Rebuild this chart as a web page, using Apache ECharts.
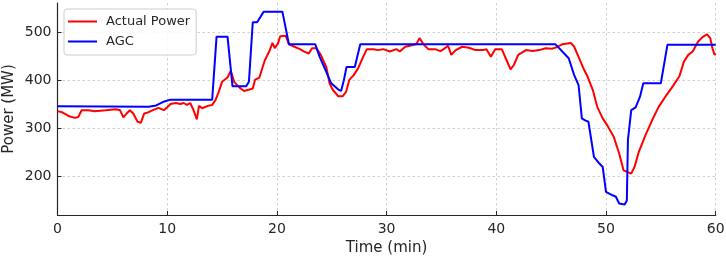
<!DOCTYPE html>
<html>
<head>
<meta charset="utf-8">
<script src="https://cdn.jsdelivr.net/npm/echarts@6/dist/echarts.min.js"></script>
<style>
  html, body { margin: 0; padding: 0; background: #fff; }
  #chart { width: 726px; height: 256px; }
</style>
</head>
<body>
<div id="chart"></div>
<script>
// AGC setpoint (blue)
const agcTime = [0, 8.3, 9.0, 9.6, 10.3, 14.1, 14.5, 15.5, 15.95, 17.2, 17.45, 17.8, 18.2, 18.8, 20.5, 21.1,
  23.5, 23.9, 24.5, 24.95, 25.6, 25.85, 26.1, 26.35, 27.1, 27.6, 45.4, 46.6, 47.1, 47.5, 47.8, 48.1, 48.4,
  48.9, 49.4, 49.7, 50.0, 50.6, 50.9, 51.2, 51.7, 51.9, 52.0, 52.3, 52.7, 53.1, 53.4, 55.0, 55.6, 60];
const agcPower = [346, 345, 348, 355, 360, 360, 491, 491, 388, 388, 397, 521, 521, 543, 543, 475,
  475, 449, 418, 394, 381, 378, 400, 428, 428, 475, 475, 446, 411, 390, 321, 317, 314,
  241, 227, 220, 168, 161, 158, 144, 142, 150, 276, 338, 344, 366, 394, 394, 474, 474];

// Actual power (red)
const actTime = [0, 0.4, 1.0, 1.6, 1.9, 2.2, 2.8, 3.4, 4.4, 5.3, 5.7, 6.0, 6.3, 6.6, 6.9, 7.3, 7.6, 7.9, 8.2,
  8.6, 9.2, 9.7, 10.0, 10.3, 10.8, 11.2, 11.5, 11.8, 12.1, 12.4, 12.7, 12.9, 13.2, 13.7, 14.1, 14.4, 14.7,
  15.0, 15.5, 15.8, 16.1, 16.6, 17.0, 17.5, 17.8, 18.0, 18.4, 18.9, 19.3, 19.6, 19.8, 20.1, 20.3, 20.8,
  21.1, 21.6, 22.1, 22.5, 22.9, 23.2, 23.6, 24.0, 24.5, 24.8, 25.1, 25.6, 26.0, 26.3, 26.6, 27.0, 27.4,
  27.9, 28.2, 28.8, 29.2, 29.7, 30.3, 30.9, 31.2, 31.7, 32.3, 32.7, 33.0, 33.4, 33.8, 34.4, 34.9, 35.2,
  35.6, 35.9, 36.3, 36.9, 37.5, 38.1, 38.8, 39.1, 39.5, 39.9, 40.5, 40.9, 41.3, 41.6, 42.0, 42.7, 43.3,
  43.9, 44.5, 45.1, 45.5, 46.0, 46.8, 47.1, 47.5, 48.0, 48.3, 48.8, 49.2, 49.7, 50.1, 50.7, 51.2, 51.6,
  52.3, 52.6, 53.0, 53.6, 54.2, 54.8, 55.5, 56.1, 56.7, 57.1, 57.5, 57.9, 58.4, 58.8, 59.2, 59.5, 59.7,
  59.9, 60];
const actPower = [336, 334, 326, 322, 324, 338, 338, 336, 338, 340, 338, 323, 331, 338, 331, 314, 312, 331, 333,
  337, 343, 338, 344, 351, 353, 351, 353, 349, 353, 338, 319, 347, 342, 347, 349, 359, 376,
  397, 406, 420, 397, 385, 378, 381, 383, 401, 406, 442, 460, 478, 467, 477, 492, 493,
  475, 470, 465, 460, 456, 467, 467, 453, 428, 394, 380, 367, 367, 376, 401, 411, 425,
  451, 465, 465, 463, 465, 460, 465, 460, 470, 473, 475, 488, 474, 465, 465, 461, 465,
  472, 453, 463, 470, 468, 463, 463, 465, 449, 465, 465, 444, 423, 432, 453, 463, 461,
  463, 467, 466, 469, 475, 478, 470, 449, 422, 409, 380, 345, 321, 307, 283, 248, 213,
  206, 220, 252, 286, 317, 345, 369, 388, 409, 439, 453, 460, 481, 490, 496, 488, 467,
  453, 456];

const yTicks = [200, 300, 400, 500];
const xTicks = [0, 10, 20, 30, 40, 50, 60];

const zip = (xs, ys) => xs.map((x, i) => [x, ys[i]]);
const font = "DejaVu Sans";
const ink = "#262626";

const chart = echarts.init(document.getElementById("chart"));
chart.setOption({
  animation: false,
  grid: { left: 57.5, right: 10.3, top: 3, bottom: 41, outerBoundsMode: "none", containLabel: false },
  legend: {
    orient: "vertical",
    left: 64,
    top: 9,
    padding: [5, 6, 6, 4],
    itemGap: 5,
    itemWidth: 29,
    itemHeight: 2,
    icon: "rect",
    backgroundColor: "rgba(255,255,255,0.85)",
    borderColor: "#cccccc",
    borderWidth: 1,
    borderRadius: 3,
    textStyle: { fontFamily: font, fontSize: 13, lineHeight: 15, color: ink, padding: [0, 0, 0, 4] },
    data: ["Actual Power", "AGC"],
  },
  xAxis: {
    type: "value",
    min: 0,
    max: 60,
    interval: 10,
    name: "Time (min)",
    nameLocation: "middle",
    nameGap: 26,
    nameMoveOverlap: false,
    nameTextStyle: { fontFamily: font, fontSize: 15, color: ink },
    axisLine: { lineStyle: { color: ink, width: 1.2 } },
    axisTick: { inside: true, length: 4, lineStyle: { color: ink }, customValues: xTicks },
    axisLabel: { margin: 7, fontFamily: font, fontSize: 14, color: ink, customValues: xTicks },
    splitLine: { show: true, lineStyle: { color: "#c4c4c4", type: [2.5, 2.5], width: 0.8 } },
  },
  yAxis: {
    type: "value",
    min: 120,
    max: 561,
    name: "Power (MW)",
    nameLocation: "middle",
    nameGap: 41,
    nameMoveOverlap: false,
    nameTextStyle: { fontFamily: font, fontSize: 15, color: ink },
    axisLine: { show: true, lineStyle: { color: ink, width: 1.2 } },
    axisTick: { show: true, inside: true, length: 4, lineStyle: { color: ink }, customValues: yTicks },
    axisLabel: { margin: 6, fontFamily: font, fontSize: 14, color: ink, customValues: yTicks },
    splitLine: { show: true, lineStyle: { color: "#c4c4c4", type: [2.5, 2.5], width: 0.8 } },
  },
  series: [
    {
      name: "Actual Power",
      type: "line",
      symbol: "none",
      data: zip(actTime, actPower),
      lineStyle: { color: "#ff0000", width: 2 },
      itemStyle: { color: "#ff0000" },
      z: 3,
    },
    {
      name: "AGC",
      type: "line",
      symbol: "none",
      data: zip(agcTime, agcPower),
      lineStyle: { color: "#0000ff", width: 2 },
      itemStyle: { color: "#0000ff" },
      z: 4,
    },
  ],
});
</script>
</body>
</html>
